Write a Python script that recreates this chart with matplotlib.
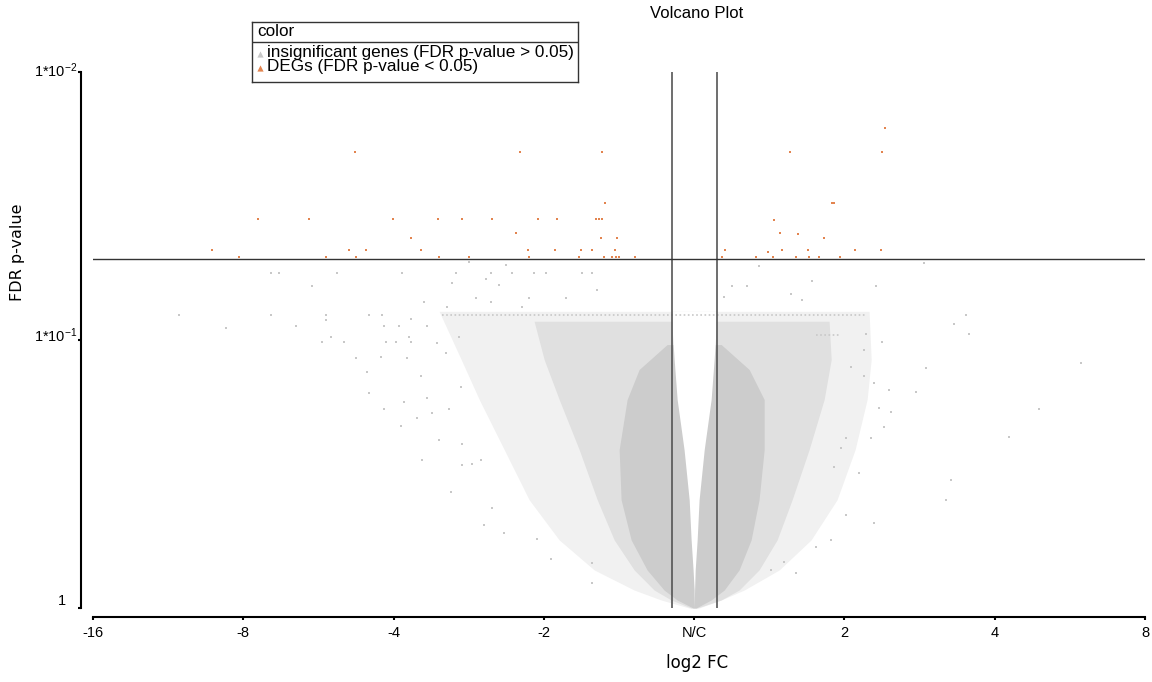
import matplotlib
matplotlib.use("Agg")
import matplotlib.pyplot as plt

plt.rcParams['font.family'] = ['Liberation Sans', 'DejaVu Sans']
plt.rcParams['mathtext.fontset'] = 'custom'
plt.rcParams['mathtext.rm'] = 'Liberation Sans'

# -------------------------------------------------------------------
# DATA  (x = log2 fold change, y = -log10 FDR p-value)
# -------------------------------------------------------------------

x_ticks = [-4, -3, -2, -1, 0, 1, 2, 3]
x_tick_labels = ['-16', '-8', '-4', '-2', 'N/C', '2', '4', '8']
y_ticks = [0, 1, 2]
y_tick_labels = ['1', r'$\mathregular{1{*}10^{-1}}$', r'$\mathregular{1{*}10^{-2}}$']

fc_cutoff = 0.15
fdr_cutoff = 1.301  # -log10(0.05)

# outlines of the cloud of insignificant genes (sparse / medium / dense zones)
faint_levels = [1.107, 0.927, 0.778, 0.591, 0.404, 0.254, 0.142, 0.067, 0.030, 0.0]
faint_left = [-1.697, -1.550, -1.430, -1.264, -1.098, -0.898, -0.665, -0.399, -0.220, -0.033]
faint_right = [1.164, 1.178, 1.151, 1.071, 0.951, 0.778, 0.566, 0.333, 0.180, 0.033]

medium_levels = [1.070, 0.927, 0.778, 0.591, 0.404, 0.254, 0.142, 0.067, 0.030, 0.0]
medium_left = [-1.065, -0.998, -0.898, -0.765, -0.645, -0.532, -0.399, -0.266, -0.153, -0.020]
medium_right = [0.898, 0.912, 0.865, 0.765, 0.652, 0.552, 0.432, 0.299, 0.180, 0.020]

dense_levels = [0.983, 0.890, 0.778, 0.591, 0.404, 0.254, 0.142, 0.067, 0.030, 0.0]
dense_left = [-0.180, -0.366, -0.446, -0.499, -0.486, -0.419, -0.313, -0.200, -0.113, -0.007]
dense_right = [0.180, 0.366, 0.466, 0.466, 0.432, 0.379, 0.299, 0.200, 0.113, 0.013]

# empty V in the middle of the cloud
gap_levels = [1.107, 1.039, 0.927, 0.778, 0.591, 0.404, 0.254, 0.142, 0.067, 0.0]
gap_left = [-0.146, -0.146, -0.133, -0.113, -0.067, -0.033, -0.020, -0.007, 0.0, 0.0]
gap_right = [0.146, 0.146, 0.133, 0.113, 0.067, 0.033, 0.020, 0.007, 0.003, 0.0]

# rows of genes sharing the same FDR value
band_x = [-1.68, 1.14]
band_y = 1.095
band2_x = [0.81, 0.97]
band2_y = 1.017

# scattered insignificant genes outside the dense cloud
grey_x = [-2.814, -2.761, -2.375, -1.943, -1.584, -1.351, -1.211, -1.065, -0.985, -0.745, -0.679,
          -2.542, -1.610, -1.384, -1.297, -1.251, -1.497, -0.645, -1.450, -1.351, -1.098, -0.852,
          -1.796, -1.643, -1.144, -3.427, -2.814, -2.448, -2.162, -2.076, -1.883, -3.114, -2.648,
          -2.448, -2.063, -1.963, -1.776, -2.475, -2.329, -2.049, -1.983, -1.883, -1.710, -2.415,
          -1.564, -1.896, -2.249, -2.083, -1.910, -1.650, -2.176, -1.816, -2.162, -1.929, -1.776,
          -2.063, -1.630, -1.949, -1.843, -1.743, -1.697, -1.550, -1.544, -1.810, -1.544, -1.477,
          -1.417, -1.617, -1.344, -1.397, -1.264, -1.045, -0.951, -0.679, -0.679,
          0.432, 1.530, 1.211, 0.785, 0.719, 0.645, 0.200, 0.253, 0.353, 1.810, 1.730, 1.830,
          2.575, 1.144, 1.251, 1.131, 1.045, 1.544, 1.131, 1.198, 1.297, 1.477, 1.231, 1.311,
          2.295, 1.264, 1.178, 2.096, 1.011, 0.978, 0.931, 1.098, 1.710, 1.677, 1.198, 1.011,
          0.912, 0.812, 0.679, 0.512, 0.599]
grey_y = [1.249, 1.249, 1.249, 1.249, 1.249, 1.249, 1.249, 1.249, 1.249, 1.249, 1.249,
          1.200, 1.211, 1.226, 1.207, 1.279, 1.290, 1.185, 1.155, 1.140, 1.155, 1.155,
          1.140, 1.125, 1.125, 1.095, 1.095, 1.095, 1.095, 1.092, 1.077, 1.043, 1.054,
          1.073, 1.054, 1.054, 1.054, 0.991, 0.991, 0.991, 0.991, 0.991, 0.987, 1.013,
          1.013, 1.013, 0.931, 0.935, 0.931, 0.950, 0.879, 0.864, 0.804, 0.770, 0.785,
          0.744, 0.744, 0.680, 0.710, 0.729, 0.628, 0.826, 0.613, 0.553, 0.535, 0.538,
          0.553, 0.434, 0.374, 0.310, 0.280, 0.258, 0.183, 0.093, 0.168,
          1.275, 1.286, 1.200, 1.219, 1.151, 1.170, 1.159, 1.200, 1.200, 1.095, 1.058, 1.021,
          0.916, 1.021, 0.994, 0.964, 0.901, 0.897, 0.867, 0.841, 0.815, 0.807, 0.748, 0.733,
          0.744, 0.677, 0.636, 0.639, 0.636, 0.598, 0.527, 0.505, 0.479, 0.404, 0.318, 0.348,
          0.254, 0.228, 0.131, 0.142, 0.172]

# DEGs (FDR p-value < 0.05)
deg_x = [-3.207, -3.027, -2.901, -2.562, -2.256, -1.158, -0.612, -0.592, -2.003, -1.703,
         -1.544, -1.344, -1.038, -0.912, -0.652, -0.632, -0.612, -1.184, -1.883, -0.619,
         -0.512, -2.295, -2.182, -1.816, -1.104, -0.925, -0.752, -0.679, -0.526, -2.448,
         -2.249, -1.697, -1.497, -1.098, -0.765, -0.599, -0.546, -0.519, -0.499, -0.393,
         1.271, 1.251, 0.639, 0.918, 0.931, 0.532, 0.572, 0.692, 0.865, 0.206,
         0.585, 0.758, 1.071, 1.244, 0.492, 0.186, 0.413, 0.526, 0.679, 0.765,
         0.832, 0.971]
deg_y = [1.335, 1.308, 1.450, 1.450, 1.701, 1.701, 1.701, 1.510, 1.450, 1.450,
         1.450, 1.450, 1.450, 1.450, 1.450, 1.450, 1.450, 1.398, 1.379, 1.379,
         1.379, 1.335, 1.335, 1.335, 1.335, 1.335, 1.335, 1.335, 1.335, 1.308,
         1.308, 1.308, 1.308, 1.308, 1.308, 1.308, 1.308, 1.308, 1.308, 1.308,
         1.791, 1.701, 1.701, 1.510, 1.510, 1.447, 1.401, 1.394, 1.379, 1.335,
         1.335, 1.335, 1.335, 1.335, 1.327, 1.308, 1.308, 1.308, 1.308, 1.308,
         1.308, 1.308]

grey = '#c8c8c8'
orange = '#e2844f'

# -------------------------------------------------------------------
# PLOT
# -------------------------------------------------------------------

fig = plt.figure(figsize=(11.52, 6.82), dpi=100)
ax = fig.add_axes([93 / 1152, 74 / 682, 1052 / 1152, 536 / 682])

ax.fill_betweenx(faint_levels, faint_left, faint_right, color='#f1f1f1', lw=0)
ax.fill_betweenx(medium_levels, medium_left, medium_right, color='#e0e0e0', lw=0)
ax.fill_betweenx(dense_levels, dense_left, dense_right, color='#cccccc', lw=0)
ax.fill_betweenx(gap_levels, gap_left, gap_right, color='white', lw=0)

ax.plot(band_x, [band_y, band_y], color=grey, lw=1.2, ls=(0, (1, 1.5)))
ax.plot(band2_x, [band2_y, band2_y], color=grey, lw=1.2, ls=(0, (1, 1.5)))

ax.scatter(grey_x, grey_y, s=2.5, marker='s', color=grey, linewidths=0)
ax.scatter(deg_x, deg_y, s=3.5, marker='s', color=orange, linewidths=0)

# cutoff lines
ax.axvline(-fc_cutoff, color='#555555', lw=1.2)
ax.axvline(fc_cutoff, color='#555555', lw=1.2)
ax.axhline(fdr_cutoff, color='#333333', lw=1)

ax.set_xlim(-4, 3)
ax.set_ylim(0, 2)

for side in ['top', 'right']:
    ax.spines[side].set_visible(False)
ax.spines['left'].set_position(('outward', 8.6))
ax.spines['bottom'].set_position(('outward', 6.5))
ax.spines['left'].set_linewidth(1.5)
ax.spines['bottom'].set_linewidth(1.5)

ax.set_xticks(x_ticks)
ax.set_xticklabels(x_tick_labels)
ax.tick_params(axis='x', length=2.2, width=1.5, pad=4.5, labelsize=10.5)
ax.set_yticks(y_ticks)
ax.set_yticklabels([])
ax.tick_params(axis='y', length=2.2, width=1.5)

# y tick labels sit a little above their ticks
for val, lab, dx, dy in zip(y_ticks, y_tick_labels, [-19.5, -11.5, -11.5], [5, 3, 1]):
    ax.annotate(lab, xy=(0, val), xycoords=('axes fraction', 'data'),
                xytext=(dx, dy), textcoords='offset points',
                ha='right', va='center', fontsize=10.5)

fig.text(697 / 1152, 1 - 14 / 682, 'Volcano Plot', ha='center', va='center', fontsize=12)
fig.text(697 / 1152, 1 - 663 / 682, 'log2 FC', ha='center', va='center',
         fontsize=12, family='DejaVu Sans')
fig.text(18 / 1152, 1 - 252 / 682, 'FDR p-value', ha='center', va='center',
         rotation=90, fontsize=11.5, family='DejaVu Sans')

# legend box
leg = fig.add_axes([252 / 1152, 1 - 82 / 682, 326 / 1152, 60 / 682])
leg.set_xlim(0, 326)
leg.set_ylim(60, 0)
leg.set_xticks([])
leg.set_yticks([])
for s in leg.spines.values():
    s.set_linewidth(1)
    s.set_color('#333333')
leg.axhline(20, color='#333333', lw=1)
leg.text(5, 10, 'color', va='center', fontsize=12.3)
leg.scatter([8], [32], marker='^', s=20, color=grey, linewidths=0)
leg.scatter([8], [46], marker='^', s=20, color=orange, linewidths=0)
leg.text(15, 30, 'insignificant genes (FDR p-value > 0.05)', va='center', fontsize=12.3)
leg.text(15, 44, 'DEGs (FDR p-value < 0.05)', va='center', fontsize=12.3)

fig.savefig('out.png', dpi=100)
